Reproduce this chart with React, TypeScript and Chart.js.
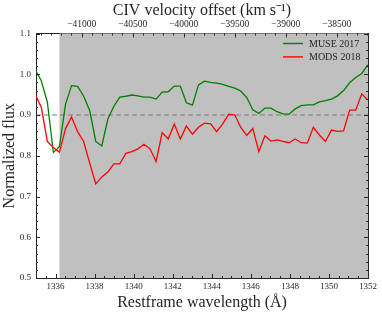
import React, { useEffect, useRef } from "react";
import { Chart, registerables } from "chart.js";

Chart.register(...registerables);

// Restframe wavelength (Å) of each spectral pixel
const wavelength = [
  1334.96, 1335.27, 1335.58, 1335.89, 1336.2, 1336.51, 1336.82, 1337.13, 1337.44, 1337.75,
  1338.06, 1338.37, 1338.68, 1338.98, 1339.29, 1339.6, 1339.91, 1340.22, 1340.53, 1340.84,
  1341.15, 1341.46, 1341.77, 1342.08, 1342.39, 1342.7, 1343.01, 1343.32, 1343.63, 1343.94,
  1344.25, 1344.56, 1344.87, 1345.18, 1345.48, 1345.79, 1346.1, 1346.41, 1346.72, 1347.03,
  1347.34, 1347.65, 1347.96, 1348.27, 1348.58, 1348.89, 1349.2, 1349.51, 1349.82, 1350.13,
  1350.44, 1350.75, 1351.06, 1351.37, 1351.68, 1351.99,
];

const museFlux = [
  1.011, 0.984, 0.932, 0.808, 0.822, 0.926, 0.972, 0.97, 0.946, 0.911,
  0.835, 0.824, 0.89, 0.921, 0.944, 0.946, 0.949, 0.947, 0.944, 0.944,
  0.939, 0.956, 0.957, 0.971, 0.971, 0.93, 0.924, 0.974, 0.983, 0.98,
  0.978, 0.975, 0.97, 0.966, 0.959, 0.943, 0.913, 0.904, 0.917, 0.917,
  0.908, 0.903, 0.902, 0.915, 0.923, 0.925, 0.925, 0.932, 0.935, 0.939,
  0.947, 0.96, 0.979, 0.992, 1.002, 1.023,
];

const modsFlux = [
  0.95, 0.919, 0.835, 0.82, 0.809, 0.866, 0.895, 0.859, 0.835, 0.782,
  0.731, 0.748, 0.76, 0.78, 0.78, 0.806, 0.81, 0.817, 0.828, 0.817,
  0.786, 0.857, 0.841, 0.878, 0.841, 0.873, 0.853, 0.87, 0.88, 0.878,
  0.859, 0.878, 0.902, 0.9, 0.87, 0.85, 0.867, 0.81, 0.849, 0.836,
  0.839, 0.835, 0.832, 0.841, 0.832, 0.831, 0.87, 0.851, 0.835, 0.863,
  0.86, 0.861, 0.912, 0.912, 0.952, 0.937,
];

const seriesLabels = ["MUSE 2017", "MODS 2018"];

const wavelengthTicks = [1336, 1338, 1340, 1342, 1344, 1346, 1348, 1350, 1352];
const fluxTicks = [0.5, 0.6, 0.7, 0.8, 0.9, 1.0, 1.1];
const velocityTicks = [-41000, -40500, -40000, -39500, -39000, -38500];

const wavelengthRange = [1335, 1352];
const fluxRange = [0.5, 1.1];
const velocityRange = [-41448, -38193];

const continuumLevel = 0.9;
const shadeStart = 1336.2;

const FONT = "'Liberation Serif', 'Times New Roman', serif";
const AXIS_COLOR = "#262626";

const shadePlugin = {
  id: "shade",
  beforeDatasetsDraw(chart: any) {
    const { ctx, chartArea, scales } = chart;
    const x0 = scales.x.getPixelForValue(shadeStart);
    const x1 = scales.x.getPixelForValue(wavelengthRange[1]);
    ctx.save();
    ctx.fillStyle = "#c0c0c0";
    ctx.fillRect(x0, chartArea.top, x1 - x0, chartArea.bottom - chartArea.top);
    ctx.restore();
  },
};

const tickPlugin = {
  id: "inwardTicks",
  afterDraw(chart: any) {
    const { ctx, chartArea, scales } = chart;
    const { left, right, top, bottom } = chartArea;
    ctx.save();
    ctx.strokeStyle = AXIS_COLOR;
    ctx.lineWidth = 1;
    const major = 4;
    const minor = 2;
    const vLine = (x: number, y0: number, y1: number) => {
      const xx = Math.round(x) + 0.5;
      ctx.beginPath();
      ctx.moveTo(xx, y0);
      ctx.lineTo(xx, y1);
      ctx.stroke();
    };
    const hLine = (y: number, x0: number, x1: number) => {
      const yy = Math.round(y) + 0.5;
      ctx.beginPath();
      ctx.moveTo(x0, yy);
      ctx.lineTo(x1, yy);
      ctx.stroke();
    };
    // bottom wavelength ticks
    for (let v = wavelengthRange[0]; v <= wavelengthRange[1] + 1e-6; v += 0.5) {
      const isMajor = wavelengthTicks.some((t) => Math.abs(t - v) < 1e-6);
      const len = isMajor ? major : minor;
      vLine(scales.x.getPixelForValue(v), bottom, bottom - len);
    }
    // top velocity ticks
    for (let v = Math.ceil(velocityRange[0] / 100) * 100; v <= velocityRange[1]; v += 100) {
      const isMajor = velocityTicks.includes(v);
      const len = isMajor ? major : minor;
      vLine(scales.x2.getPixelForValue(v), top, top + len);
    }
    // left and right flux ticks
    for (let i = 0; i <= 30; i++) {
      const v = fluxRange[0] + i * 0.02;
      const isMajor = i % 5 === 0;
      const len = isMajor ? major : minor;
      const y = scales.y.getPixelForValue(v);
      hLine(y, left, left + len);
      hLine(y, right, right - len);
    }
    ctx.restore();
  },
};

const legendPlugin = {
  id: "innerLegend",
  afterDraw(chart: any) {
    const { ctx, chartArea } = chart;
    ctx.save();
    ctx.font = `10px ${FONT}`;
    ctx.textBaseline = "middle";
    ctx.textAlign = "left";
    const items = chart.data.datasets.filter((d: any) => seriesLabels.includes(d.label));
    items.sort((a: any, b: any) => seriesLabels.indexOf(a.label) - seriesLabels.indexOf(b.label));
    items.forEach((d: any, i: number) => {
      const y = chartArea.top + 10 + i * 13.4;
      const x0 = chartArea.right - 85;
      ctx.strokeStyle = d.borderColor;
      ctx.lineWidth = 1.4;
      ctx.beginPath();
      ctx.moveTo(x0, y);
      ctx.lineTo(x0 + 20, y);
      ctx.stroke();
      ctx.fillStyle = AXIS_COLOR;
      ctx.fillText(d.label, x0 + 26, y + 0.5);
    });
    ctx.restore();
  },
};

function setTicks(values: number[]) {
  return (scale: any) => {
    scale.ticks = values.map((v) => ({ value: v }));
  };
}

export default function App() {
  const canvasRef = useRef<HTMLCanvasElement | null>(null);

  useEffect(() => {
    if (!canvasRef.current) return;
    const museData = wavelength.map((w, i) => ({ x: w, y: museFlux[i] }));
    const modsData = wavelength.map((w, i) => ({ x: w, y: modsFlux[i] }));
    const chart = new Chart(canvasRef.current, {
      type: "line",
      data: {
        datasets: [
          {
            label: seriesLabels[1],
            data: modsData,
            borderColor: "#ff0000",
            borderWidth: 1.3,
            pointRadius: 0,
            tension: 0,
            clip: 0,
            xAxisID: "x",
            yAxisID: "y",
          },
          {
            label: seriesLabels[0],
            data: museData,
            borderColor: "#008000",
            borderWidth: 1.3,
            pointRadius: 0,
            tension: 0,
            clip: 0,
            xAxisID: "x",
            yAxisID: "y",
          },
          {
            label: "continuum",
            data: [
              { x: wavelengthRange[0], y: continuumLevel },
              { x: wavelengthRange[1], y: continuumLevel },
            ],
            borderColor: "#7f7f7f",
            borderWidth: 1.2,
            borderDash: [5, 3],
            pointRadius: 0,
            clip: 0,
            xAxisID: "x",
            yAxisID: "y",
          },
        ],
      },
      options: {
        animation: false,
        responsive: false,
        maintainAspectRatio: false,
        events: [],
        layout: { padding: 0 },
        plugins: { legend: { display: false }, tooltip: { enabled: false }, title: { display: false } },
        scales: {
          x: {
            type: "linear",
            position: "bottom",
            bounds: "data",
            min: wavelengthRange[0],
            max: wavelengthRange[1],
            afterBuildTicks: setTicks(wavelengthTicks),
            afterFit: (s: any) => {
              s.height = 36;
            },
            grid: { drawOnChartArea: false, drawTicks: false },
            border: { display: true, color: AXIS_COLOR, width: 1 },
            ticks: {
              autoSkip: false,
              maxRotation: 0,
              padding: 3,
              color: AXIS_COLOR,
              font: { family: FONT, size: 9 },
              callback: (v: any) => String(v),
            },
            title: {
              display: true,
              text: "Restframe wavelength (Å)",
              color: AXIS_COLOR,
              font: { family: FONT, size: 16 },
              padding: { top: 0, bottom: 2 },
            },
          },
          x2: {
            type: "linear",
            position: "top",
            bounds: "data",
            min: velocityRange[0],
            max: velocityRange[1],
            afterBuildTicks: setTicks(velocityTicks),
            afterFit: (s: any) => {
              s.height = 33.5;
            },
            grid: { drawOnChartArea: false, drawTicks: false },
            border: { display: true, color: AXIS_COLOR, width: 1 },
            ticks: {
              autoSkip: false,
              maxRotation: 0,
              padding: 3,
              color: AXIS_COLOR,
              font: { family: FONT, size: 9.5 },
              callback: (v: any) => String(v).replace("-", "\u2212"),
            },
            title: {
              display: true,
              text: "CIV velocity offset (km s\u207B\u00B9)",
              color: AXIS_COLOR,
              font: { family: FONT, size: 16 },
              padding: { top: 1, bottom: 0 },
            },
          },
          y: {
            type: "linear",
            position: "left",
            bounds: "data",
            min: fluxRange[0],
            max: fluxRange[1],
            afterBuildTicks: setTicks(fluxTicks),
            afterFit: (s: any) => {
              s.width = 36;
            },
            grid: { drawOnChartArea: false, drawTicks: false },
            border: { display: true, color: AXIS_COLOR, width: 1 },
            ticks: {
              autoSkip: false,
              padding: 5,
              color: AXIS_COLOR,
              font: { family: FONT, size: 9 },
              callback: (v: any) => Number(v).toFixed(1),
            },
            title: {
              display: true,
              text: "Normalized flux",
              color: AXIS_COLOR,
              font: { family: FONT, size: 16 },
              padding: { top: 0, bottom: 0 },
            },
          },
          y2: {
            type: "linear",
            position: "right",
            bounds: "data",
            min: fluxRange[0],
            max: fluxRange[1],
            afterBuildTicks: setTicks(fluxTicks),
            afterFit: (s: any) => {
              s.width = 14;
            },
            grid: { drawOnChartArea: false, drawTicks: false },
            border: { display: true, color: AXIS_COLOR, width: 1 },
            ticks: { display: false },
          },
        },
      } as any,
      plugins: [shadePlugin, tickPlugin, legendPlugin],
    });
    return () => chart.destroy();
  }, []);

  return (
    <div style={{ position: "fixed", left: 0, top: 0, width: 382, height: 314, background: "#fff" }}>
      <canvas ref={canvasRef} width={382} height={314} style={{ width: 382, height: 314 }} />
    </div>
  );
}
